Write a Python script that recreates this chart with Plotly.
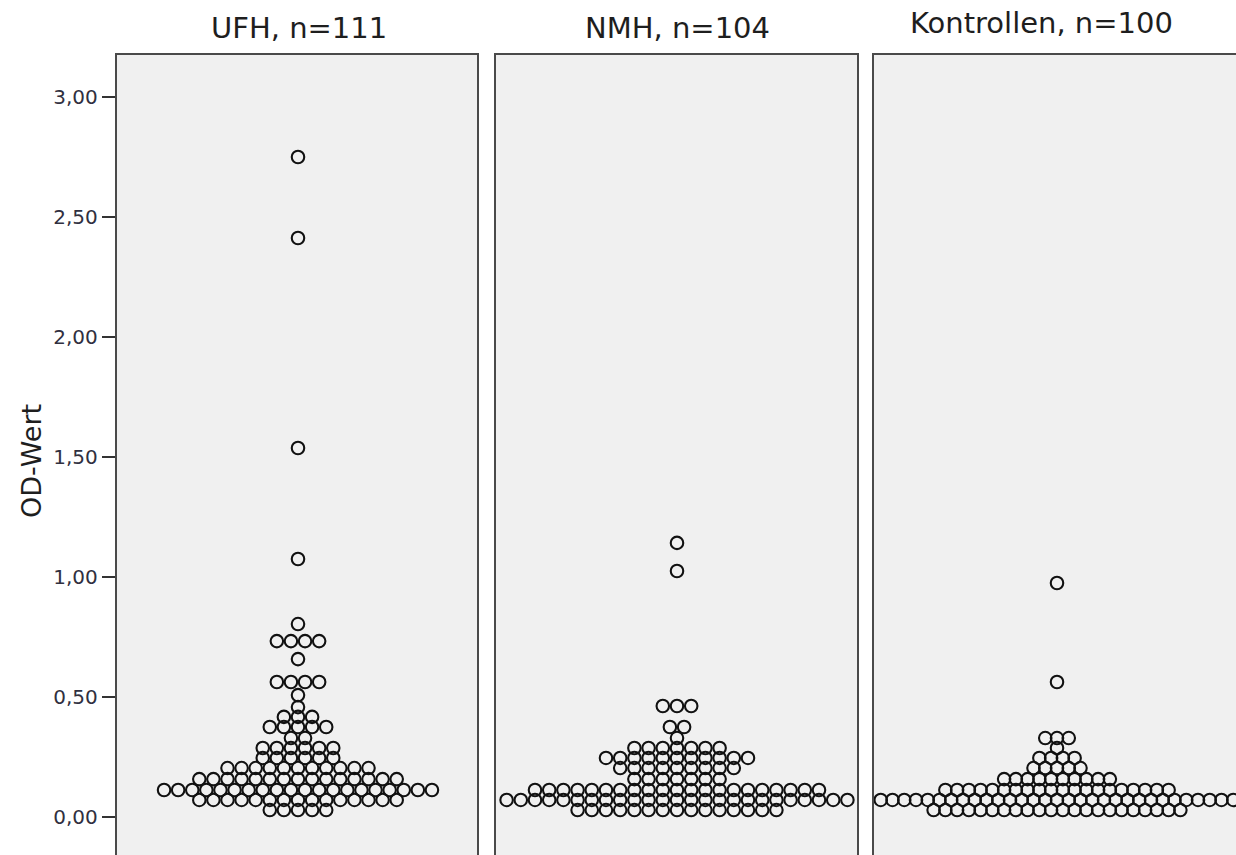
import plotly.graph_objects as go

# OD values (bin centres) and number of patients per bin, per group
ufh_values = [0.029, 0.071, 0.1125, 0.158, 0.204, 0.246, 0.2875, 0.329, 0.375, 0.417,
              0.458, 0.508, 0.5625, 0.658, 0.733, 0.804, 1.075, 1.5375, 2.4125, 2.75]
ufh_counts = [5, 15, 20, 15, 11, 6, 6, 2, 5, 3,
              1, 1, 4, 1, 4, 1, 1, 1, 1, 1]

nmh_values = [0.029, 0.071, 0.1125, 0.158, 0.204, 0.246, 0.2875, 0.329, 0.375, 0.4625,
              1.025, 1.142]
nmh_counts = [15, 25, 21, 7, 9, 11, 7, 1, 2, 3,
              1, 1]

kon_values = [0.029, 0.071, 0.1125, 0.158, 0.204, 0.246, 0.2875, 0.329, 0.5625, 0.975]
kon_counts = [22, 31, 20, 10, 5, 4, 1, 3, 1, 1]

panel_titles = ["UFH, n=111", "NMH, n=104", "Kontrollen, n=100"]
y_ticks = [0.0, 0.5, 1.0, 1.5, 2.0, 2.5, 3.0]

W, H = 1236, 855
L, T, R, B = 117, 55, 0, 0
PW = W - L - R
PH = H - T - B

FONT = "DejaVu Sans"
BORDER = "#4a4a4a"
DOT = "#111111"


def stack_row(values, counts, step):
    """Centre each bin's dots side by side around x = 0."""
    xs, ys = [], []
    for v, k in zip(values, counts):
        for i in range(k):
            xs.append((i - (k - 1) / 2) * step)
            ys.append(v)
    return xs, ys


def px_x(p):
    return (p - L) / PW


def px_y(p):
    return (H - B - p) / PH


# per panel: data, dot step (x units = px), x range, pixel extent
panels = [
    (ufh_values, ufh_counts, 14.1, [-181, 179], (117, 477)),
    (nmh_values, nmh_counts, 14.2, [-181, 180], (496, 857)),
    (kon_values, kon_counts, 11.75, [-183, 179], (874, 1236)),
]

y_range = [-(H - B - 817) / 240.0, (817 - T) / 240.0]

fig = go.Figure()
layout = dict(
    width=W, height=H,
    margin=dict(l=L, r=R, t=T, b=B, pad=0),
    paper_bgcolor="white",
    plot_bgcolor="#f0f0f0",
    showlegend=False,
    separators=",.",
    font=dict(family=FONT, color="#222222"),
    annotations=[],
)

for idx, (vals, cnts, step, xr, (x0, x1)) in enumerate(panels):
    n = "" if idx == 0 else str(idx + 1)
    xs, ys = stack_row(vals, cnts, step)
    fig.add_trace(go.Scatter(
        x=xs, y=ys, mode="markers",
        xaxis="x" + n, yaxis="y" + n,
        marker=dict(symbol="circle-open", size=12.5, color=DOT,
                    line=dict(width=2.1, color=DOT)),
        hoverinfo="y",
    ))
    layout["xaxis" + n] = dict(
        domain=[px_x(x0), px_x(x1)], range=xr, anchor="y" + n,
        side="top", showline=True, linecolor=BORDER, linewidth=2.4,
        showticklabels=False, ticks="", showgrid=False, zeroline=False,
        fixedrange=True,
    )
    yax = dict(
        domain=[0, 1], range=y_range, anchor="x" + n,
        showline=True, linecolor=BORDER, linewidth=2.4,
        mirror=(idx < 2), showgrid=False, zeroline=False,
    )
    if idx == 0:
        yax.update(ticks="outside", ticklen=13, tickwidth=1.8, tickcolor="#333333",
                   tickvals=y_ticks, tickformat=".2f",
                   tickfont=dict(family=FONT, size=20, color="#303040"))
    else:
        yax.update(ticks="", showticklabels=False)
    layout["yaxis" + n] = yax

title_pos = [(299, 28), (677, 28), (1041, 23)]
for text, (tx, ty) in zip(panel_titles, title_pos):
    layout["annotations"].append(dict(
        text=text, x=px_x(tx), y=px_y(ty), xref="paper", yref="paper",
        xanchor="center", yanchor="middle", showarrow=False,
        font=dict(family=FONT, size=29, color="#1e1e1e"),
    ))

layout["annotations"].append(dict(
    text="OD-Wert", x=px_x(31), y=px_y(461), xref="paper", yref="paper",
    xanchor="center", yanchor="middle", textangle=-90, showarrow=False,
    font=dict(family=FONT, size=27, color="#1e1e1e"),
))

fig.update_layout(**layout)
fig.write_html("out.html")
